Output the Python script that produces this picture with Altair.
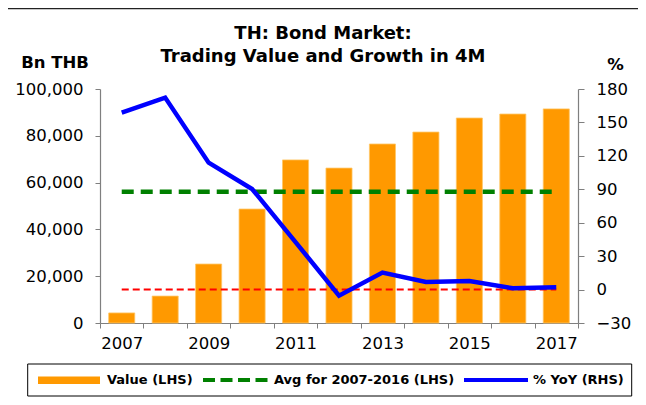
import altair as alt
import pandas as pd

# ---- data ----
years = [str(y) for y in range(2007, 2018)]
values = [4300, 11500, 25200, 48700, 69700, 66200, 76500, 81600, 87600, 89300, 91500]
yoy = [158.8, 172.3, 113.9, 90.3, 42.6, -5.5, 15.2, 6.8, 7.7, 1.2, 2.1]
avg_value = sum(values[:10]) / 10  # average 2007-2016
left_ticks = [0, 20000, 40000, 60000, 80000, 100000]
right_ticks = [-30, 0, 30, 60, 90, 120, 150, 180]
title_lines = ["TH: Bond Market:", "Trading Value and Growth in 4M"]
legend_labels = ["Value (LHS)", "Avg for 2007-2016 (LHS)", "% YoY (RHS)"]

df = pd.DataFrame({"year": years, "value": values, "yoy": yoy,
                   "avg": [avg_value] * len(years), "zero": [0] * len(years)})

W, H = 478, 234
FONT = "DejaVu Sans"
ORANGE = "#FF9900"
GREEN = "#008000"
BLUE = "#0000FF"
RED = "#FF0000"

x_enc = alt.X(
    "year:N",
    scale=alt.Scale(paddingInner=0, paddingOuter=0),
    axis=alt.Axis(title=None, labelAngle=0, tickBand="extent", tickSize=5,
                  labelPadding=7, labelFontSize=16.5,
                  labelExpr="toNumber(datum.value) % 2 == 1 ? datum.label : ''"),
)

left_scale = alt.Scale(domain=[0, 100000], nice=False, zero=False)
left_axis = alt.Axis(values=left_ticks, labelExpr="format(datum.value, ',')",
                     title="Bn THB", titleAngle=0,
                     titleX=-45.5, titleY=-22, titleAlign="center",
                     titleBaseline="alphabetic", tickSize=5, labelPadding=12,
                     grid=False)
right_scale = alt.Scale(domain=[-30, 180], nice=False, zero=False)
right_axis = alt.Axis(values=right_ticks, orient="right", title="%", titleAngle=0,
                      titleX=37, titleY=-20, titleAlign="center",
                      titleBaseline="alphabetic", tickSize=6, labelPadding=12,
                      grid=False)

base = alt.Chart(df)
bars = base.mark_bar(color=ORANGE, width={"band": 0.6}, stroke="#FFC766",
                     strokeWidth=0.8).encode(
    x=x_enc, y=alt.Y("value:Q", scale=left_scale, axis=left_axis))
avg_line = base.mark_line(color=GREEN, strokeWidth=4.5, strokeDash=[12, 7]).encode(
    x=x_enc, y=alt.Y("avg:Q", scale=left_scale, axis=left_axis))
zero_line = base.mark_line(color=RED, strokeWidth=2, strokeDash=[7, 4]).encode(
    x=x_enc, y=alt.Y("zero:Q", scale=right_scale, axis=right_axis))
yoy_line = base.mark_line(color=BLUE, strokeWidth=4.5).encode(
    x=x_enc, y=alt.Y("yoy:Q", scale=right_scale, axis=right_axis))

left_layer = alt.layer(bars, avg_line)
right_layer = alt.layer(zero_line, yoy_line)
main = alt.layer(left_layer, right_layer).resolve_scale(y="independent")

one = alt.Data(values=[{}])

def text(t, x, y, size, align="left", baseline="middle"):
    return alt.Chart(one).mark_text(
        font=FONT, fontSize=size, fontWeight="bold", color="black",
        align=align, baseline=baseline).encode(
        x=alt.value(x), y=alt.value(y), text=alt.value(t))

# Title
title1 = text(title_lines[0], 223, -50, 18, align="center", baseline="alphabetic")
title2 = text(title_lines[1], 223, -27, 18, align="center", baseline="alphabetic")

# Frame line on top
frame_top = alt.Chart(one).mark_rule(color="#222222", strokeWidth=1.5).encode(
    x=alt.value(-92), x2=alt.value(538), y=alt.value(-80.5))

# Legend
leg_box = alt.Chart(one).mark_rect(fill="white", stroke="black", strokeWidth=1).encode(
    x=alt.value(-72.3), x2=alt.value(531.7), y=alt.value(275), y2=alt.value(307))
leg_bar = alt.Chart(one).mark_rect(color=ORANGE).encode(
    x=alt.value(-62), x2=alt.value(0), y=alt.value(287.5), y2=alt.value(295))
leg_green = alt.Chart(one).mark_rule(color=GREEN, strokeWidth=4, strokeDash=[12, 5.5]).encode(
    x=alt.value(103), x2=alt.value(168), y=alt.value(291))
leg_blue = alt.Chart(one).mark_rule(color=BLUE, strokeWidth=4).encode(
    x=alt.value(364), x2=alt.value(428), y=alt.value(291))
leg_t1 = text(legend_labels[0], 7, 291, 13)
leg_t2 = text(legend_labels[1], 174, 291, 13)
leg_t3 = text(legend_labels[2], 433, 291, 13)

chart = alt.layer(
    main, frame_top, title1, title2,
    leg_box, leg_bar, leg_green, leg_blue, leg_t1, leg_t2, leg_t3,
).properties(
    width=W, height=H,
    autosize=alt.AutoSizeParams(type="none"),
    padding={"left": 92, "top": 81, "right": 60, "bottom": 74},
).configure_view(stroke=None).configure_axis(
    domainColor="#7F7F7F", tickColor="#7F7F7F", domainWidth=1.2,
    labelColor="black", labelFont=FONT, labelFontSize=16.5,
    titleFont=FONT, titleFontSize=16.5, titleFontWeight="bold", titleColor="black",
)

chart.save("out.html", embed_options={"renderer": "svg", "actions": False})
